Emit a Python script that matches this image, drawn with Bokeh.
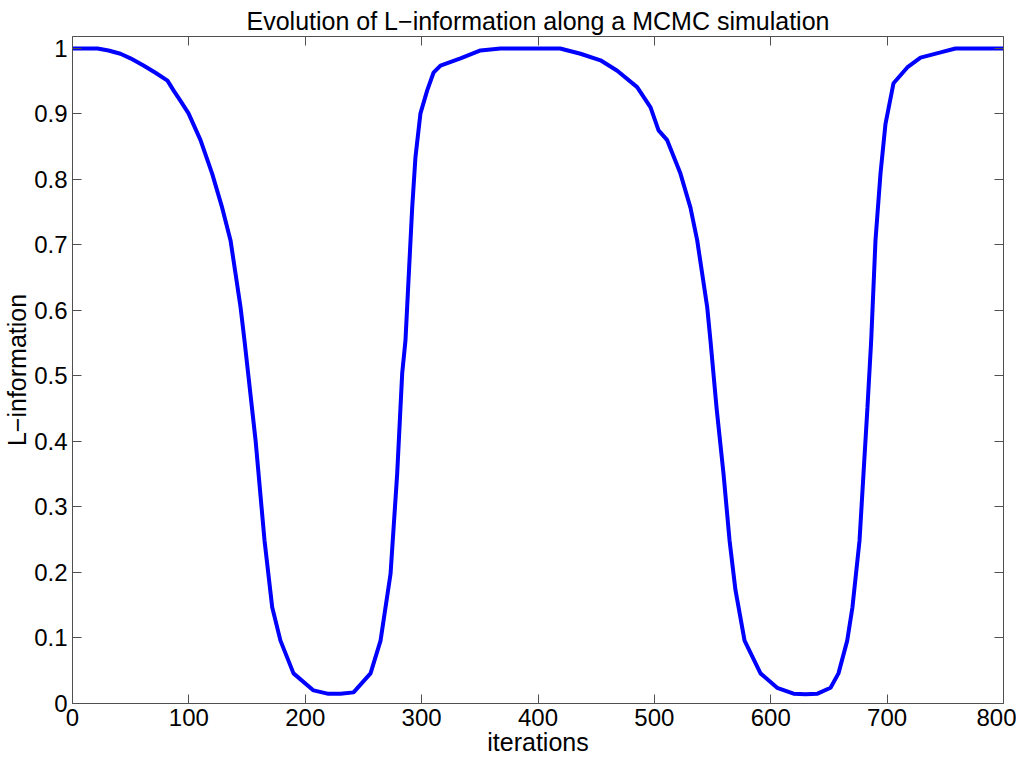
from bokeh.plotting import figure
from bokeh.models import LinearAxis, FixedTicker, Range1d, ColumnDataSource
from bokeh.embed import file_html
from bokeh.resources import INLINE

# Data
iterations = [0, 21.5, 30.9, 41.2, 49.8, 61.0, 71.3, 81.6, 86.8, 92.8, 99.7, 110.0,
              120.0, 128.6, 135.8, 140.1, 144.4, 147.8, 157.3, 165.0, 171.6, 178.7,
              189.9, 207.1, 219.1, 230.3, 241.5, 256.1, 264.7, 273.3, 279.0, 283.3,
              286.1, 289.0, 291.9, 294.7, 299.0, 304.8, 310.2, 316.2, 333.4, 350.6,
              367.8, 419.0, 436.5, 453.7, 468.1, 485.2, 496.7, 503.6, 511.0, 522.4,
              531.0, 536.8, 541.1, 545.4, 548.2, 553.4, 559.4, 564.6, 569.7, 577.5,
              591.2, 605.5, 619.6, 629.9, 640.2, 651.4, 658.2, 665.7, 670.2, 676.3,
              679.7, 683.1, 686.3, 690.0, 694.3, 698.6, 705.5, 717.3, 728.7, 745.9,
              758.7, 800]
l_information = [1.000, 1.000, 0.997, 0.992, 0.985, 0.974, 0.963, 0.951, 0.936, 0.920,
                 0.901, 0.860, 0.809, 0.757, 0.707, 0.656, 0.605, 0.554, 0.402, 0.249,
                 0.147, 0.096, 0.046, 0.020, 0.015, 0.0148, 0.017, 0.046, 0.096, 0.198,
                 0.351, 0.504, 0.554, 0.656, 0.757, 0.834, 0.901, 0.936, 0.963, 0.974,
                 0.985, 0.997, 1.000, 1.000, 0.992, 0.982, 0.966, 0.941, 0.910, 0.875,
                 0.860, 0.809, 0.757, 0.707, 0.656, 0.605, 0.554, 0.452, 0.351, 0.249,
                 0.173, 0.096, 0.046, 0.024, 0.015, 0.014, 0.015, 0.024, 0.046, 0.096,
                 0.147, 0.249, 0.351, 0.452, 0.554, 0.707, 0.809, 0.885, 0.947, 0.971,
                 0.986, 0.994, 1.000, 1.000]
x_ticks = [0, 100, 200, 300, 400, 500, 600, 700, 800]
y_ticks = [0, 0.1, 0.2, 0.3, 0.4, 0.5, 0.6, 0.7, 0.8, 0.9, 1]
y_tick_labels = {0: "0", 0.1: "0.1", 0.2: "0.2", 0.3: "0.3", 0.4: "0.4", 0.5: "0.5",
                 0.6: "0.6", 0.7: "0.7", 0.8: "0.8", 0.9: "0.9", 1: "1"}
title_text = "Evolution of L\u2212information along a MCMC simulation"
x_label = "iterations"
y_label = "L\u2212information"

FONT = "Liberation Sans"
AX_COLOR = "#505050"

src = ColumnDataSource(data=dict(x=iterations, y=l_information))

p = figure(width=1016, height=758, output_backend="svg", toolbar_location=None,
           x_range=Range1d(0, 800), y_range=Range1d(0, 1.0183),
           x_axis_location=None, y_axis_location=None,
           min_border_left=72, min_border_right=13, min_border_top=36,
           min_border_bottom=55)

p.title.text = title_text
p.title.text_font = FONT
p.title.text_font_size = "25px"
p.title.text_font_style = "normal"
p.title.text_color = "black"
p.title.text_line_height = 0.75
p.title.align = "center"
p.title.vertical_align = "top"
p.title.standoff = 0
p.title.offset = 0

p.xgrid.visible = False
p.ygrid.visible = False
p.outline_line_color = None
p.background_fill_color = "white"
p.border_fill_color = "white"

p.line("x", "y", source=src, line_color="#0000ff", line_width=4)


def style(ax):
    ax.axis_line_color = AX_COLOR
    ax.axis_line_width = 1
    ax.major_tick_line_color = AX_COLOR
    ax.major_tick_in = 9
    ax.major_tick_out = 0
    ax.minor_tick_line_color = None
    ax.major_label_text_font = FONT
    ax.major_label_text_color = "black"
    ax.major_label_text_font_size = "24px"
    ax.axis_label_text_font = FONT
    ax.axis_label_text_font_size = "25px"
    ax.axis_label_text_font_style = "normal"
    ax.axis_label_text_color = "black"
    ax.axis_label_standoff = 0


bottom = LinearAxis(ticker=FixedTicker(ticks=x_ticks), axis_label=x_label)
style(bottom)
bottom.major_label_standoff = 5
bottom.axis_label_standoff = -1
p.add_layout(bottom, "below")

left = LinearAxis(ticker=FixedTicker(ticks=y_ticks), axis_label=y_label,
                  major_label_overrides=y_tick_labels)
style(left)
left.major_label_standoff = 5
left.axis_label_standoff = 0
p.add_layout(left, "left")

top = LinearAxis(ticker=FixedTicker(ticks=x_ticks),
                 major_label_overrides={t: "" for t in x_ticks})
style(top)
top.major_label_standoff = 0
p.add_layout(top, "above")

right = LinearAxis(ticker=FixedTicker(ticks=y_ticks),
                   major_label_overrides={t: "" for t in y_ticks})
style(right)
right.major_label_standoff = 0
p.add_layout(right, "right")

open("out.html", "w").write(file_html(p, INLINE))
